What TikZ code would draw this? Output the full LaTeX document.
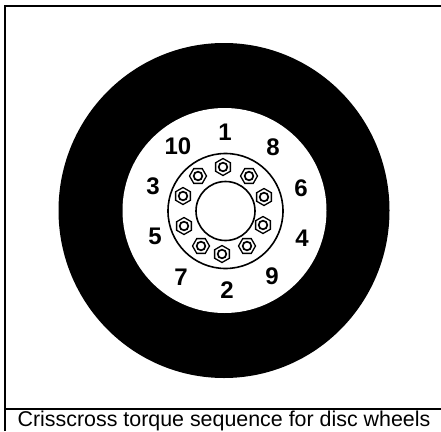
\documentclass[tikz,border=0pt]{standalone}
\usepackage{fontspec}
\setmainfont{Liberation Sans}
\begin{document}
\begin{tikzpicture}[x=1pt,y=-1pt,
  framed/.style={line width=2.2pt,black},
  ringline/.style={line width=1.6pt,black},
  numlabel/.style={font=\fontsize{24}{26}\selectfont\bfseries,inner sep=0pt},
  caption/.style={font=\fontsize{21.4}{24}\selectfont,inner sep=0pt,anchor=base}]
\useasboundingbox (0,0) rectangle (441,431);
\fill[white] (0,0) rectangle (441,431);
\draw[framed] (5,431) -- (5,6) -- (441,6);
\draw[framed] (5,409) -- (441,409);
\fill[black] (224,210.5) ellipse [x radius=165.5,y radius=167.5];
\fill[white] (224.5,210.5) ellipse [x radius=102,y radius=102.5];
\draw[ringline] (225.5,211) circle (57.5);
\draw[ringline] (225.5,211) circle (29.5);
\foreach \x/\y/\r in {223/167/0,198/176/30,183/196/0,184/226/0,201/246/30,222/254/0,247/246/30,263/225/0,264/197/0,249/176/30}{
  \draw[line width=1.3pt,rotate around={\r+30:(\x,\y)}] (\x,\y) +(0:8.5) -- +(60:8.5) -- +(120:8.5) -- +(180:8.5) -- +(240:8.5) -- +(300:8.5) -- cycle;
  \draw[line width=1.7pt] (\x,\y) circle (4.3);
}
\node[numlabel] (n1) at (225,132) {1};
\node[numlabel] (n2) at (227,290) {2};
\node[numlabel] (n3) at (153,186) {3};
\node[numlabel] (n4) at (302,238) {4};
\node[numlabel] (n5) at (155,236) {5};
\node[numlabel] (n6) at (301,188) {6};
\node[numlabel] (n7) at (181,277) {7};
\node[numlabel] (n8) at (273,147) {8};
\node[numlabel] (n9) at (272,276) {9};
\node[numlabel] (n10) at (178,146) {10};
\node[caption] (cap) at (224,426.5) {Crisscross torque sequence for disc wheels};
\end{tikzpicture}
\end{document}
